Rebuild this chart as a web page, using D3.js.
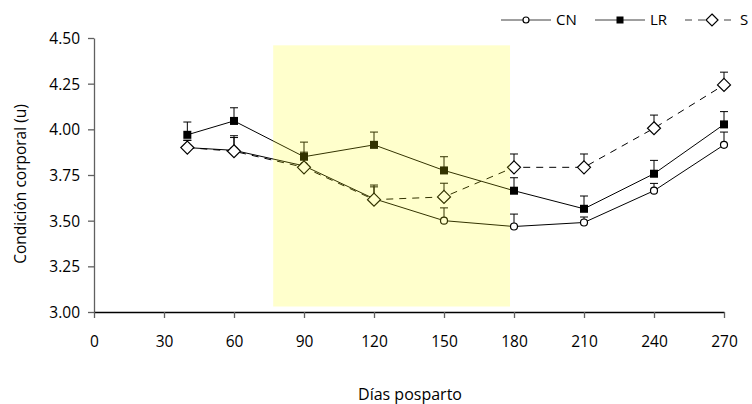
<!DOCTYPE html>
<html><head><meta charset="utf-8">
<script src="https://cdn.jsdelivr.net/npm/d3@7"></script>
<style>body{margin:0;background:#fff}svg{display:block}text{font-family:"Open Sans",Lato,sans-serif;fill:#000}</style>
</head><body>
<svg id="c" width="752" height="404"></svg>
<script>
const days = [40, 60, 90, 120, 150, 180, 210, 240, 270];
const cn = [3.90, 3.885, 3.80, 3.62, 3.50, 3.468, 3.49, 3.664, 3.915];
const cnErr = [0.04, 0.08, 0.075, 0.075, 0.07, 0.068, 0.03, 0.04, 0.07];
const lr = [3.97, 4.046, 3.85, 3.915, 3.775, 3.664, 3.565, 3.757, 4.027];
const lrErr = [0.07, 0.072, 0.08, 0.07, 0.075, 0.071, 0.07, 0.073, 0.07];
const s = [3.90, 3.88, 3.792, 3.615, 3.630, 3.792, 3.792, 4.006, 4.243];
const sErr = [0.04, 0.075, 0.07, 0.07, 0.075, 0.073, 0.073, 0.072, 0.07];
const xTicks = [0, 30, 60, 90, 120, 150, 180, 210, 240, 270];
const yTicks = [3.00, 3.25, 3.50, 3.75, 4.00, 4.25, 4.50];
const shade = {x0: 76.8, x1: 178.3, y0: 3.03, y1: 4.46};

const svg = d3.select("#c");
const x = d3.scaleLinear().domain([0, 270]).range([94, 724]);
const y = d3.scaleLinear().domain([3, 4.5]).range([312, 38]);

// axes
const yAx = svg.append("g").attr("transform","translate(94,0)")
  .call(d3.axisLeft(y).tickValues(yTicks).tickFormat(d3.format(".2f")).tickSize(6).tickSizeOuter(0));
const xAx = svg.append("g").attr("transform","translate(0,312)")
  .call(d3.axisBottom(x).tickValues(xTicks).tickSize(6).tickSizeOuter(0));
[yAx, xAx].forEach(g => {
  g.select(".domain").attr("stroke","#606060").attr("stroke-width",1.3);
  g.selectAll(".tick line").attr("stroke","#606060").attr("stroke-width",1.3);
  g.selectAll("text").style("font-size","15.5px").attr("fill","#000");
});
yAx.selectAll("text").attr("x",-14).attr("dy","0.35em");
xAx.selectAll("text").attr("y",30).attr("dy","0.35em");
xAx.select(".domain").attr("stroke","#000");

svg.append("text").attr("x",410).attr("y",400).attr("text-anchor","middle").style("font-size","16px").text("Días posparto");
svg.append("text").attr("transform","translate(26,184) rotate(-90)").attr("text-anchor","middle").style("font-size","15.5px").text("Condición corporal (u)");

const series = [
  {name:"CN", v:cn, e:cnErr, dash:null, shape:"circle"},
  {name:"LR", v:lr, e:lrErr, dash:null, shape:"square"},
  {name:"S",  v:s,  e:sErr,  dash:"7,6", shape:"diamond"}
];
const line = d3.line().x((d,i)=>x(days[i])).y(d=>y(d));

function marker(g, shape, cx, cy, big) {
  if (shape==="circle") {
    g.append("circle").attr("cx",cx).attr("cy",cy).attr("r",big?3.5:3).attr("fill","#fff").attr("stroke","#000").attr("stroke-width",1.2);
  } else if (shape==="square") {
    const h = big?4:3.5;
    g.append("rect").attr("x",cx-h).attr("y",cy-h).attr("width",2*h).attr("height",2*h).attr("fill","#000");
  } else {
    const r = big?6.5:6;
    g.append("path").attr("d",`M${cx},${cy-r}L${cx+r},${cy}L${cx},${cy+r}L${cx-r},${cy}Z`).attr("fill","#fff").attr("stroke","#000").attr("stroke-width",1.2);
  }
}

const plot = svg.append("g");
series.forEach(sr => {
  const g = plot.append("g");
  sr.v.forEach((v,i) => {
    const cx = x(days[i]);
    g.append("line").attr("x1",cx).attr("x2",cx).attr("y1",y(v)).attr("y2",y(v+sr.e[i])).attr("stroke","#000").attr("stroke-width",1);
    g.append("line").attr("x1",cx-4).attr("x2",cx+4).attr("y1",y(v+sr.e[i])).attr("y2",y(v+sr.e[i])).attr("stroke","#000").attr("stroke-width",1);
  });
  g.append("path").attr("d",line(sr.v)).attr("fill","none").attr("stroke","#000").attr("stroke-width",1)
    .attr("stroke-dasharray",sr.dash);
});
series.forEach(sr => {
  const g = plot.append("g");
  sr.v.forEach((v,i) => marker(g, sr.shape, x(days[i]), y(v), true));
});

// shaded period overlay
svg.append("rect").attr("x",x(shade.x0)).attr("y",y(shade.y1))
  .attr("width",x(shade.x1)-x(shade.x0)).attr("height",y(shade.y0)-y(shade.y1))
  .attr("fill","#ffff00").attr("fill-opacity",0.2);

// legend
const leg = [
  {name:"CN", x0:501, len:50, mk:25, tx:556, shape:"circle", dash:null},
  {name:"LR", x0:595, len:50, mk:25, tx:650, shape:"square", dash:null},
  {name:"S",  x0:685, len:52, mk:27, tx:740, shape:"diamond", dash:"7,6"}
];
leg.forEach(l => {
  const g = svg.append("g");
  g.append("line").attr("x1",l.x0).attr("x2",l.x0+l.len).attr("y1",20).attr("y2",20).attr("stroke","#404040").attr("stroke-width",1).attr("stroke-dasharray",l.dash);
  marker(g, l.shape, l.x0+l.mk, 20, false);
  g.append("text").attr("x",l.tx).attr("y",20).attr("dy","0.35em").style("font-size","15px").text(l.name);
});
</script>
</body></html>
